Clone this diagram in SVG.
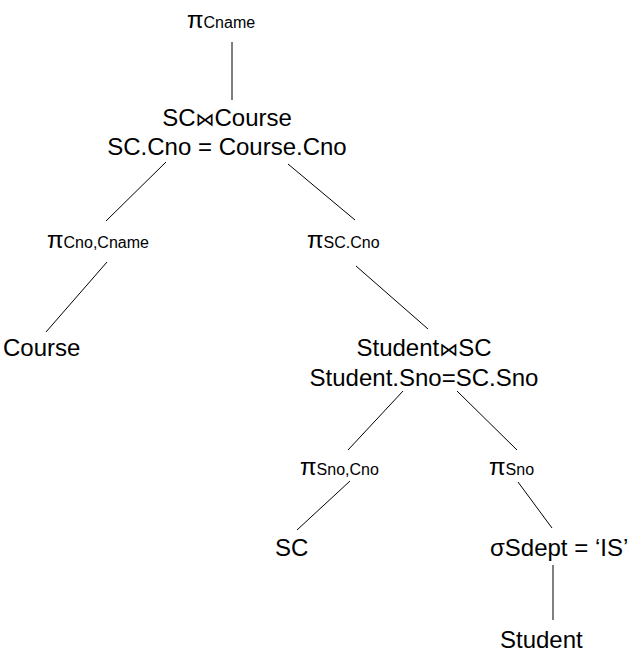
<svg xmlns="http://www.w3.org/2000/svg" width="638" height="655" viewBox="0 0 638 655">
<style>
text{font-family:"Liberation Sans","DejaVu Sans",Arial,sans-serif;fill:#000;font-size:24px}
.s{font-size:16px}
.c{text-anchor:middle}
.b{font-family:"Noto Sans CJK SC","DejaVu Sans",sans-serif;font-size:19px}
#edges line{stroke:#000;stroke-width:1}
</style>
<rect width="638" height="655" fill="#fff"/>
<g id="edges">
<line x1="232" y1="42" x2="232" y2="100"/>
<line x1="166" y1="162" x2="106" y2="221"/>
<line x1="288" y1="164" x2="355" y2="220"/>
<line x1="107" y1="262" x2="46" y2="332"/>
<line x1="356" y1="266" x2="428" y2="329"/>
<line x1="403" y1="391" x2="348" y2="450"/>
<line x1="457" y1="391" x2="517" y2="450"/>
<line x1="350" y1="481" x2="297" y2="530"/>
<line x1="518" y1="482" x2="552" y2="528"/>
<line x1="553" y1="565" x2="553" y2="620"/>
</g>
<g id="n-proj-cname"><text x="187" y="28">π<tspan class="s">Cname</tspan></text></g>
<g id="n-join-course"><text class="c" x="227" y="126">SC<tspan class="b">⋈</tspan>Course</text><text class="c" x="227" y="155">SC.Cno = Course.Cno</text></g>
<g id="n-proj-cno-cname"><text x="47" y="248">π<tspan class="s">Cno,Cname</tspan></text></g>
<g id="n-proj-sccno"><text x="307" y="248">π<tspan class="s">SC.Cno</tspan></text></g>
<g id="n-course"><text x="3" y="356">Course</text></g>
<g id="n-join-student"><text class="c" x="424" y="356">Student<tspan class="b">⋈</tspan>SC</text><text class="c" x="424" y="386">Student.Sno=SC.Sno</text></g>
<g id="n-proj-sno-cno"><text x="300" y="475">π<tspan class="s">Sno,Cno</tspan></text></g>
<g id="n-proj-sno"><text x="489" y="475">π<tspan class="s">Sno</tspan></text></g>
<g id="n-sc"><text x="275" y="556">SC</text></g>
<g id="n-select"><text x="490" y="556">σSdept = ‘IS’</text></g>
<g id="n-student"><text x="500" y="648">Student</text></g>
</svg>
